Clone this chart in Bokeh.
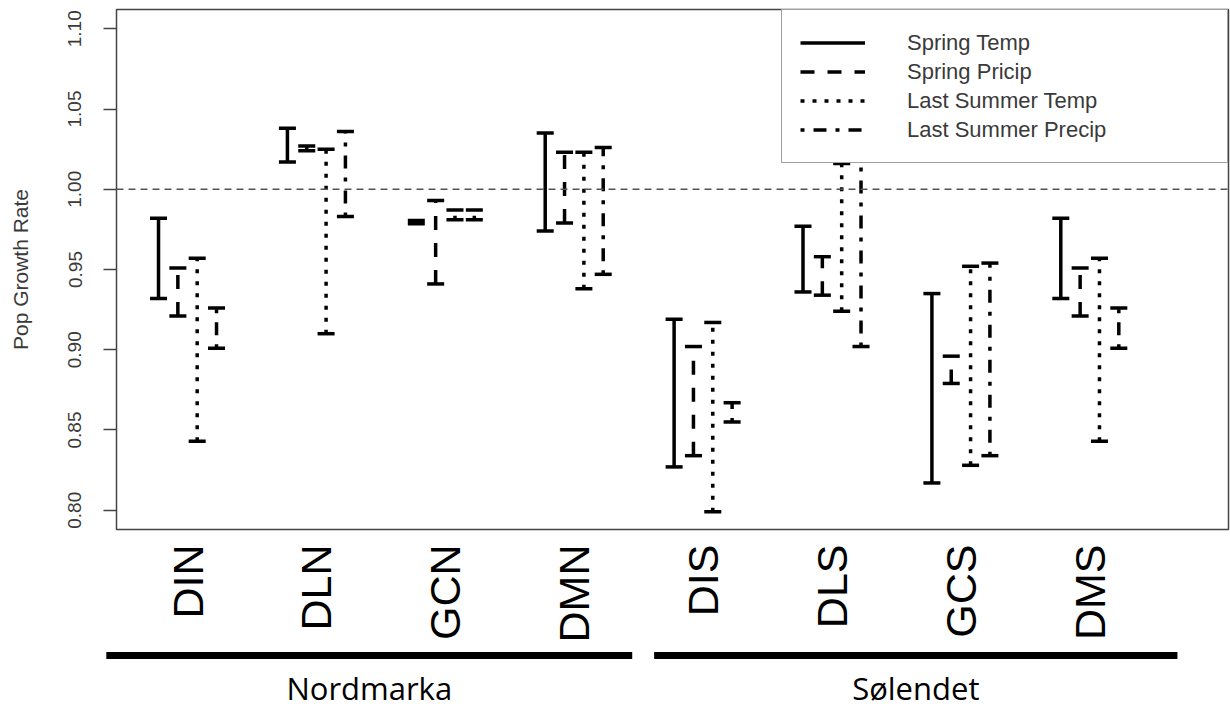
import math
from bokeh.plotting import figure
from bokeh.models import (Range1d, FixedTicker, Span, Legend, LegendItem,
                          ColumnDataSource, NumeralTickFormatter)
from bokeh.layouts import column
from bokeh.embed import file_html
from bokeh.resources import INLINE
from bokeh.core.properties import value

# ---------------- data ----------------
sites = ["DIN", "DLN", "GCN", "DMN", "DIS", "DLS", "GCS", "DMS"]
series_names = ["Spring Temp", "Spring Pricip", "Last Summer Temp", "Last Summer Precip"]

spring_temp_upper = [0.982, 1.038, 0.9805, 1.035, 0.919, 0.977, 0.935, 0.982]
spring_temp_lower = [0.932, 1.017, 0.9785, 0.974, 0.827, 0.936, 0.817, 0.932]

spring_precip_upper = [0.951, 1.027, 0.993, 1.023, 0.902, 0.958, 0.896, 0.951]
spring_precip_lower = [0.921, 1.024, 0.941, 0.979, 0.834, 0.934, 0.879, 0.921]

summer_temp_upper = [0.957, 1.025, 0.987, 1.023, 0.917, 1.016, 0.952, 0.957]
summer_temp_lower = [0.843, 0.910, 0.981, 0.938, 0.799, 0.924, 0.828, 0.843]

summer_precip_upper = [0.926, 1.036, 0.987, 1.026, 0.867, 1.030, 0.954, 0.926]
summer_precip_lower = [0.901, 0.983, 0.981, 0.947, 0.855, 0.902, 0.834, 0.901]

regions = ["Nordmarka", "Sølendet"]
region_start = [0.37, 4.62]
region_end = [4.45, 8.68]

y_ticks = [0.80, 0.85, 0.90, 0.95, 1.00, 1.05, 1.10]
reference_rate = 1.0

# ---------------- styling ----------------
X0, X1 = 0.449, 9.076
Y0, Y1 = 0.788, 1.112
offsets = [-0.225, -0.075, 0.075, 0.225]
dashes = ["solid", "14 13", "4 8", "4 9 13 9"]
cap_half = 0.066
LW = 3.5
FRAME_W = 1112
LEFT, RIGHT = 116, 2

x_range = Range1d(X0, X1)
p = figure(width=1230, height=645, x_range=x_range, y_range=Range1d(Y0, Y1),
           min_border_left=LEFT, min_border_right=RIGHT, min_border_top=9,
           min_border_bottom=115, toolbar_location=None, output_backend="svg")
p.frame_align = False
p.grid.visible = False
p.background_fill_color = "white"
p.border_fill_color = "white"
p.outline_line_color = "#444444"
p.outline_line_width = 1.5

# y axis
ya = p.yaxis[0]
ya.ticker = FixedTicker(ticks=y_ticks)
ya.formatter = NumeralTickFormatter(format="0.00")
ya.major_label_orientation = "vertical"
ya.major_label_text_font = "Liberation Sans"
ya.major_label_text_font_size = "19px"
ya.major_label_text_color = "#3a3a3a"
ya.major_label_standoff = 22
ya.major_tick_out = 13
ya.major_tick_in = 0
ya.major_tick_line_color = "#444444"
ya.major_tick_line_width = 1.5
ya.minor_tick_line_color = None
ya.axis_line_color = None
ya.axis_label = "Pop Growth Rate"
ya.axis_label_text_font = "Liberation Sans"
ya.axis_label_text_font_size = "21px"
ya.axis_label_text_font_style = "normal"
ya.axis_label_text_color = "#3a3a3a"
ya.axis_label_standoff = 34

# x axis (site labels)
xa = p.xaxis[0]
xa.ticker = FixedTicker(ticks=list(range(1, len(sites) + 1)))
xa.major_label_overrides = {i + 1: s for i, s in enumerate(sites)}
xa.major_label_orientation = math.pi / 2
xa.major_label_text_font = "Liberation Sans"
xa.major_label_text_font_size = "43px"
xa.major_label_text_color = "black"
xa.major_label_standoff = 15
xa.major_tick_out = 0
xa.major_tick_in = 0
xa.major_tick_line_color = None
xa.minor_tick_line_color = None
xa.axis_line_color = None

# reference line
p.add_layout(Span(location=reference_rate, dimension="width", line_color="#555555",
                  line_width=1.5, line_dash="7 5"))

uppers = [spring_temp_upper, spring_precip_upper, summer_temp_upper, summer_precip_upper]
lowers = [spring_temp_lower, spring_precip_lower, summer_temp_lower, summer_precip_lower]

items = []
for k in range(4):
    xs = [i + 1 + offsets[k] for i in range(len(sites))]
    src = ColumnDataSource(dict(x=xs, lo=lowers[k], hi=uppers[k],
                                xl=[x - cap_half for x in xs],
                                xr=[x + cap_half for x in xs]))
    shaft = p.segment(x0="x", y0="lo", x1="x", y1="hi", source=src,
                      line_color="black", line_width=LW, line_dash=dashes[k])
    p.segment(x0="xl", y0="hi", x1="xr", y1="hi", source=src,
              line_color="black", line_width=LW)
    p.segment(x0="xl", y0="lo", x1="xr", y1="lo", source=src,
              line_color="black", line_width=LW)
    items.append(LegendItem(label=series_names[k], renderers=[shaft]))

legend = Legend(items=items, location="top_right", margin=0, padding=18,
                spacing=0, glyph_width=65, glyph_height=29, label_height=29,
                label_standoff=42, label_width=302,
                label_text_font="Liberation Sans", label_text_font_size="22px",
                label_text_color="#3a3a3a", border_line_color="#444444",
                border_line_width=1.5, background_fill_color="white",
                background_fill_alpha=1.0)
p.add_layout(legend, "center")

# ---------------- region bars ----------------
ppu = FRAME_W / (X1 - X0)
x2 = Range1d(X0 - LEFT / ppu, X1 + RIGHT / ppu)
p2 = figure(width=1230, height=66, x_range=x2, y_range=Range1d(66, 0),
            min_border_left=0, min_border_right=0, min_border_top=0,
            min_border_bottom=0, x_axis_location=None, y_axis_location=None,
            toolbar_location=None, output_backend="svg")
p2.frame_align = False
p2.grid.visible = False
p2.outline_line_color = None
p2.background_fill_color = "white"
p2.border_fill_color = "white"
rsrc = ColumnDataSource(dict(x0=region_start, x1=region_end,
                             xc=[(a + b) / 2 for a, b in zip(region_start, region_end)],
                             name=regions))
p2.segment(x0="x0", y0=10, x1="x1", y1=10, source=rsrc, line_color="black",
           line_width=7)
p2.text(x="xc", y=42, text="name", source=rsrc, text_align="center",
        text_baseline="middle", text_font=value("Open Sans"),
        text_font_size="31px", text_color="black")

layout = column(p, p2, spacing=0)
open("out.html", "w").write(file_html(layout, INLINE))
